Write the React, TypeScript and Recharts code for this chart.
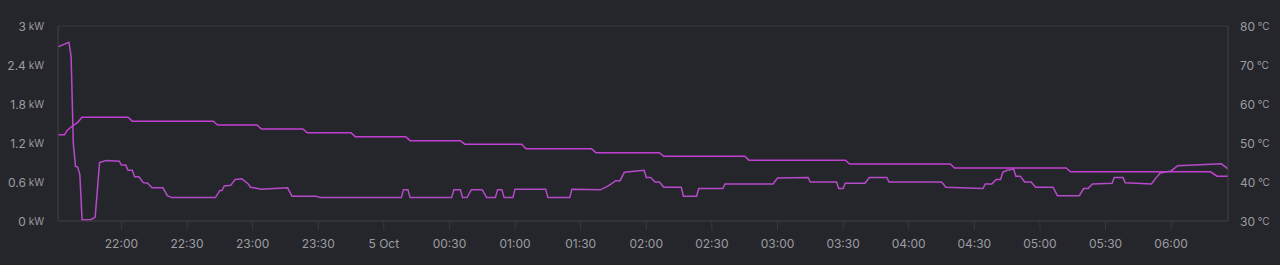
import * as React from 'react'
import { CartesianGrid, Line, LineChart, XAxis, YAxis } from 'recharts'

// power draw (left axis, kW)
const powerTimes = [
  '21:31', '21:36', '21:37', '21:38', '21:39', '21:40', '21:41', '21:42', '21:46', '21:48',
  '21:50', '21:53', '21:59', '22:00', '22:02', '22:03', '22:05', '22:06', '22:08', '22:10',
  '22:12', '22:14', '22:19', '22:21', '22:23', '22:43', '22:45', '22:46', '22:47', '22:50',
  '22:52', '22:55', '22:58', '22:59', '23:04', '23:16', '23:18', '23:29', '23:31', '00:08',
  '00:09', '00:11', '00:12', '00:31', '00:32', '00:35', '00:36', '00:38', '00:40', '00:45',
  '00:47', '00:51', '00:52', '00:54', '00:55', '00:59', '01:00', '01:14', '01:15', '01:25',
  '01:26', '01:39', '01:42', '01:44', '01:46', '01:48', '01:50', '01:59', '02:00', '02:02',
  '02:04', '02:06', '02:08', '02:16', '02:17', '02:23', '02:24', '02:35', '02:36', '02:58',
  '03:00', '03:14', '03:15', '03:27', '03:28', '03:30', '03:31', '03:40', '03:42', '03:50',
  '03:51', '04:15', '04:17', '04:34', '04:35', '04:38', '04:40', '04:42', '04:43', '04:45',
  '04:48', '04:49', '04:51', '04:53', '04:56', '04:58', '05:06', '05:08', '05:18', '05:20',
  '05:22', '05:24', '05:33', '05:34', '05:38', '05:39', '05:51', '05:53', '05:55', '06:00',
  '06:03', '06:23', '06:26',
]
const powerKw = [
  2.68, 2.75, 2.53, 1.19, 0.84, 0.83, 0.71, 0.02, 0.02, 0.06,
  0.9, 0.93, 0.92, 0.86, 0.86, 0.78, 0.78, 0.68, 0.68, 0.59,
  0.58, 0.51, 0.51, 0.39, 0.36, 0.36, 0.47, 0.47, 0.54, 0.55,
  0.64, 0.65, 0.57, 0.52, 0.49, 0.51, 0.38, 0.38, 0.36, 0.36,
  0.48, 0.48, 0.36, 0.36, 0.48, 0.48, 0.36, 0.36, 0.48, 0.48,
  0.36, 0.36, 0.48, 0.48, 0.36, 0.36, 0.49, 0.49, 0.36, 0.36,
  0.49, 0.48, 0.53, 0.57, 0.62, 0.62, 0.75, 0.78, 0.67, 0.67,
  0.6, 0.6, 0.52, 0.52, 0.38, 0.38, 0.5, 0.5, 0.57, 0.57,
  0.66, 0.67, 0.6, 0.6, 0.5, 0.5, 0.58, 0.58, 0.67, 0.67,
  0.6, 0.6, 0.52, 0.5, 0.57, 0.57, 0.64, 0.64, 0.75, 0.78,
  0.8, 0.69, 0.69, 0.6, 0.6, 0.52, 0.52, 0.39, 0.39, 0.5,
  0.5, 0.57, 0.58, 0.67, 0.67, 0.59, 0.57, 0.66, 0.74, 0.77,
  0.85, 0.88, 0.8,
]

// water temperature (right axis, °C)
const tempTimes = [
  '21:31', '21:34', '21:35', '21:37', '21:40', '21:42', '22:03', '22:05', '22:42', '22:44',
  '23:02', '23:04', '23:23', '23:25', '23:45', '23:47', '00:10', '00:12', '00:35', '00:37',
  '01:03', '01:05', '01:35', '01:37', '02:06', '02:08', '02:45', '02:47', '03:31', '03:33',
  '04:19', '04:21', '05:12', '05:14', '06:18', '06:21', '06:26',
]
const tempC = [
  52.1, 52.1, 53.1, 54.1, 55.3, 56.6, 56.6, 55.6, 55.6, 54.6,
  54.6, 53.6, 53.6, 52.6, 52.6, 51.6, 51.6, 50.6, 50.6, 49.7,
  49.7, 48.5, 48.5, 47.5, 47.5, 46.6, 46.6, 45.6, 45.6, 44.6,
  44.6, 43.6, 43.6, 42.6, 42.6, 41.5, 41.5,
]

const xTickTimes = [
  '22:00', '22:30', '23:00', '23:30', '00:00', '00:30', '01:00', '01:30', '02:00',
  '02:30', '03:00', '03:30', '04:00', '04:30', '05:00', '05:30', '06:00',
]
const kwTicks = [0, 0.6, 1.2, 1.8, 2.4, 3]
const tempTicks = [30, 40, 50, 60, 70, 80]

const BG = '#25262b'
const GRID = '#38393e'
const TEXT = '#9c9da1'
const POWER_COLOR = '#b64aca'
const TEMP_COLOR = '#c440d4'
const FONT = 'Inter, "Noto Sans", sans-serif'

// minutes since 21:30 on the first evening
const toMin = (t: string) => {
  const [h, m] = t.split(':').map(Number)
  return (h >= 12 ? h - 21 : h + 3) * 60 + m - 30
}

const powerData = powerTimes.map((t, i) => ({ t: toMin(t), kw: powerKw[i] }))
const tempData = tempTimes.map((t, i) => ({ t: toMin(t), c: tempC[i] }))
const xTicks = xTickTimes.map(toMin)
const xLabel = (m: number) => {
  const t = xTickTimes[xTicks.indexOf(m)]
  return t === '00:00' ? '5 Oct' : t
}

const UnitTick = (props: any) => {
  const { x, y, payload, unit, anchor } = props
  return (
    <text x={x} y={y} textAnchor={anchor} dominantBaseline="central" fill={TEXT} fontFamily={FONT}>
      <tspan fontSize={12}>{String(payload.value)}</tspan>
      <tspan fontSize={10}>{' ' + unit}</tspan>
    </text>
  )
}

const TimeTick = (props: any) => {
  const { x, y, payload } = props
  return (
    <text x={x} y={y} textAnchor="middle" dominantBaseline="central" fill={TEXT} fontFamily={FONT} fontSize={12}>
      {xLabel(payload.value)}
    </text>
  )
}

export default function App() {
  return (
    <div style={{ position: 'fixed', left: 0, top: 0, width: 1280, height: 265, background: BG }}>
      <LineChart width={1280} height={265} margin={{ top: 26, right: 0, bottom: 0, left: 0 }}>
        <CartesianGrid stroke={GRID} strokeWidth={1} />
        <XAxis
          xAxisId="t"
          type="number"
          dataKey="t"
          domain={[toMin(powerTimes[0]), toMin(powerTimes[powerTimes.length - 1])]}
          ticks={xTicks}
          height={44}
          axisLine={{ stroke: GRID }}
          tickLine={{ stroke: GRID }}
          tickSize={9}
          tickMargin={13}
          tick={<TimeTick />}
          allowDataOverflow
        />
        <YAxis
          yAxisId="kw"
          orientation="left"
          width={58}
          domain={[0, 3]}
          ticks={kwTicks}
          axisLine={{ stroke: GRID }}
          tickLine={false}
          tickSize={0}
          tickMargin={14}
          tick={<UnitTick unit="kW" anchor="end" />}
        />
        <YAxis
          yAxisId="c"
          orientation="right"
          width={52}
          domain={[30, 80]}
          ticks={tempTicks}
          axisLine={{ stroke: GRID }}
          tickLine={false}
          tickSize={0}
          tickMargin={12}
          tick={<UnitTick unit="°C" anchor="start" />}
        />
        <Line
          xAxisId="t"
          yAxisId="c"
          data={tempData}
          dataKey="c"
          type="linear"
          stroke={TEMP_COLOR}
          strokeWidth={1.5}
          dot={false}
          activeDot={false}
          isAnimationActive={false}
        />
        <Line
          xAxisId="t"
          yAxisId="kw"
          data={powerData}
          dataKey="kw"
          type="linear"
          stroke={POWER_COLOR}
          strokeWidth={1.5}
          dot={false}
          activeDot={false}
          isAnimationActive={false}
        />
      </LineChart>
    </div>
  )
}
